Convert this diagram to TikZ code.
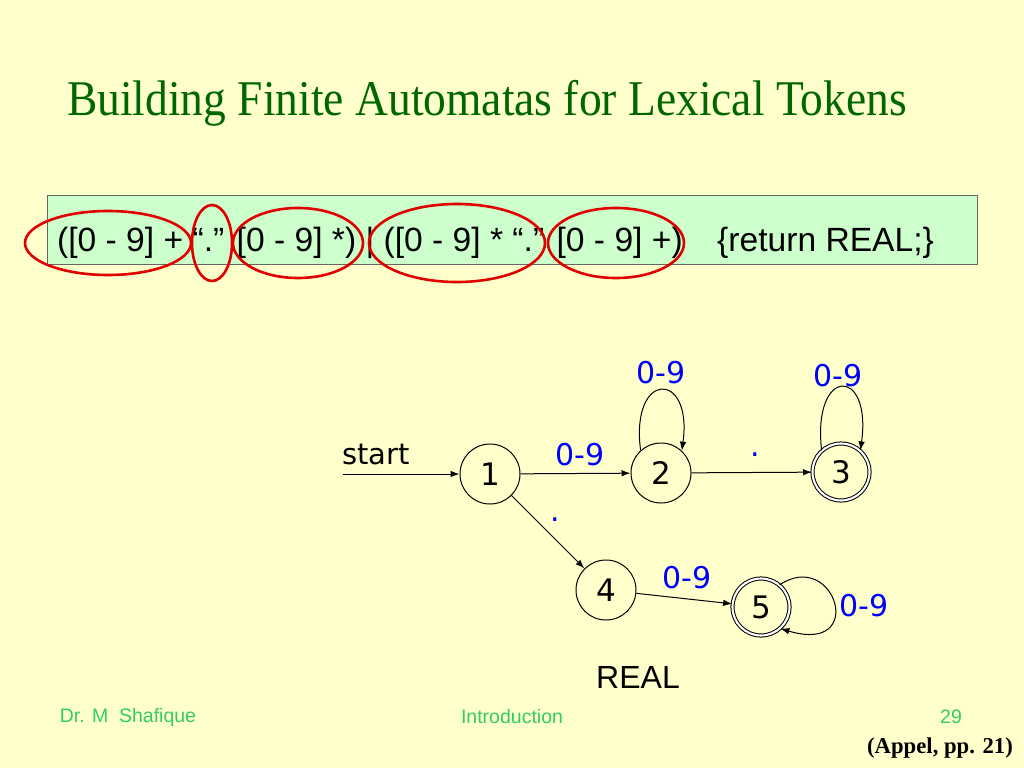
\documentclass[tikz,border=0pt]{standalone}
\usepackage{fontspec}
\usepackage{graphicx}
\setmainfont{Liberation Serif}
\setsansfont{Liberation Sans}
\newfontfamily\tahoma{DejaVu Sans}
\usetikzlibrary{arrows.meta}
\definecolor{paper}{HTML}{FFFFCC}
\definecolor{boxgreen}{HTML}{CCFFCC}
\definecolor{titlegreen}{HTML}{006600}
\definecolor{footgreen}{HTML}{33CC66}
\definecolor{labelblue}{HTML}{0000FF}
\definecolor{markred}{HTML}{E00000}
\tikzset{
  state/.style={draw, circle, line width=1pt, minimum size=60pt, inner sep=0pt,
    font=\tahoma\fontsize{31}{31}\selectfont},
  accept/.style={state, double, double distance=2.1pt, minimum size=57pt},
  move/.style={line width=1pt, -{Latex[length=9pt,width=6.5pt]}},
  digits/.style={text=labelblue, font=\tahoma\fontsize{30}{30}\selectfont},
  redring/.style={draw=markred, line width=2.6pt},
  footer/.style={text=footgreen, font=\sffamily\fontsize{19.5}{19.5}\selectfont}
}
\begin{document}
\begin{tikzpicture}[x=1pt, y=-1pt]
      \useasboundingbox[fill=paper] (0,0) rectangle (1024,768);
      % title
      \node[text=titlegreen, font=\fontsize{50}{50}\selectfont] (title) at (487,103)
        {\scalebox{0.91}[1]{Building Finite Automatas for Lexical Tokens}};
      % regular expression
      \draw[fill=boxgreen, draw=black!60, line width=0.8pt] (47,195) rectangle (977,264);
      \node[anchor=west, inner sep=0pt, font=\sffamily\fontsize{33.6}{34}\selectfont] (regex) at (57,243)
        {([0 - 9] + “.” [0 - 9] *) | ([0 - 9] * “.” [0 - 9] +)\hspace{0.75em} \{return REAL;\}};
      \draw[redring] (108,243) ellipse (83 and 32);
      \draw[redring] (212,243) ellipse (20 and 38);
      \draw[redring] (298,243) ellipse (65 and 35);
      \draw[redring] (457,243) ellipse (88 and 39);
      \draw[redring] (616,243) ellipse (68 and 35);
      % automaton
      \coordinate (in) at (343,474);
      \node[font=\tahoma\fontsize{29}{29}\selectfont] (start) at (376,455) {start};
      \node[state] (n1) at (490,474) {1};
      \node[state] (n2) at (661,473) {2};
      \node[accept] (n3) at (841,472) {3};
      \node[state] (n4) at (606,590) {4};
      \node[accept] (n5) at (761,607) {5};
      \draw[move] (in) -- (n1);
      \draw[move] (n1) -- (n2);
      \draw[move] (n2) -- (n3);
      \draw[move] (n1) -- (n4);
      \draw[move] (n4) -- (n5);
      \draw[move] (n2.132) .. controls (630,370) and (693,370) .. (n2.47);
      \draw[move] (n3.132) .. controls (812,366) and (872,366) .. (n3.48);
      \draw[move] (n5.50) .. controls (835,548) and (868,655) .. (n5.-48);
      \node[digits] (l12) at (580,455) {0-9};
      \node[digits] (l22) at (661,373) {0-9};
      \node[digits] (l33) at (838,376) {0-9};
      \node[digits] (l23) at (755,455) {.};
      \node[digits] (l14) at (555,520) {.};
      \node[digits] (l45) at (687,578) {0-9};
      \node[digits] (l55) at (864,606) {0-9};
      \node[font=\sffamily\fontsize{32}{32}\selectfont] (real) at (638,677) {REAL};
      % footer
      \node[footer] (author) at (128,717) {Dr. M\ \ Shafique};
      \node[footer] (topic) at (512,717) {Introduction};
      \node[footer] (page) at (951,717) {29};
      \node[font=\bfseries\fontsize{22.7}{23}\selectfont] (source) at (940,748) {(Appel, pp. 21)};
\end{tikzpicture}
\end{document}
